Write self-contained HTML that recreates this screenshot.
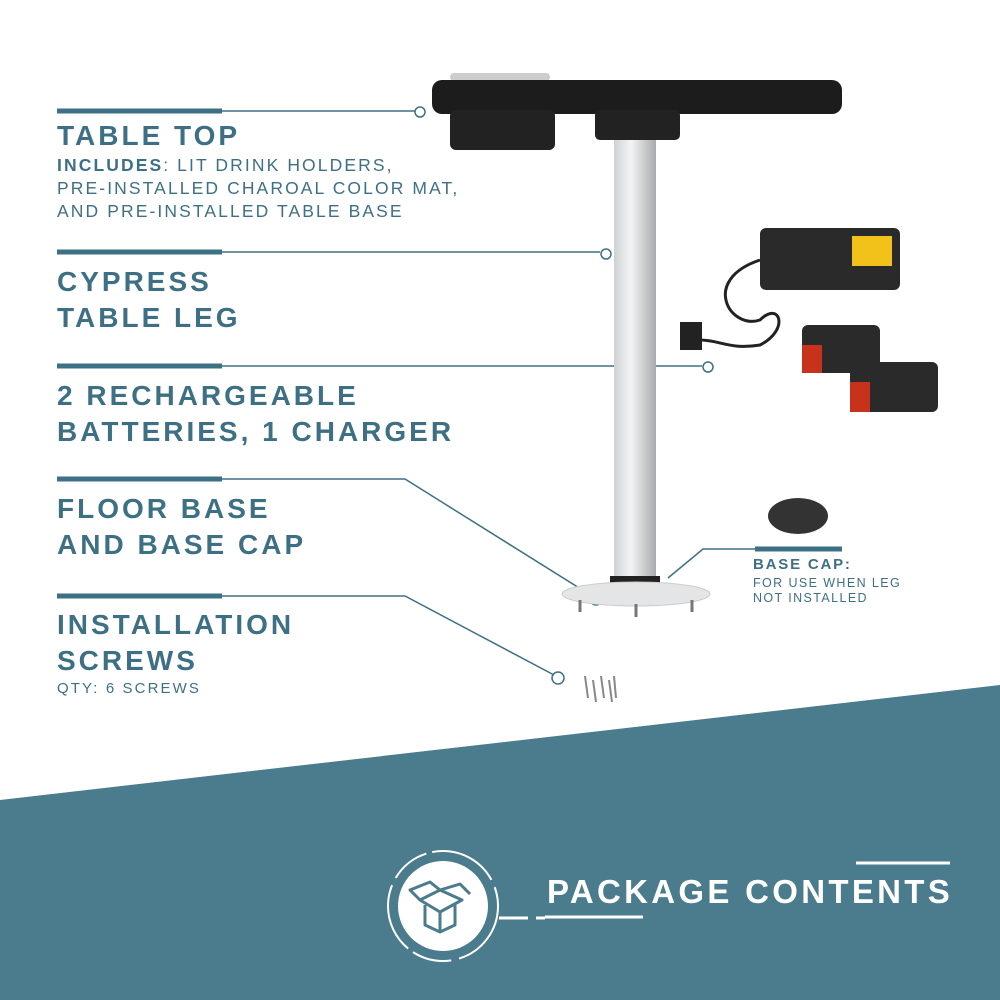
<!DOCTYPE html>
<html><head><style>
body{margin:0;width:1000px;height:1000px;background:#fff;overflow:hidden;position:relative;font-family:"Liberation Sans",sans-serif}
.t{position:absolute;left:57px;color:#3e7085;font-weight:bold;letter-spacing:3px;font-size:28px;line-height:36px;margin:0}
.s{position:absolute;left:57px;color:#3e7085;letter-spacing:2.1px;font-size:17.5px;line-height:23px}
</style></head><body>
<svg width="1000" height="1000" style="position:absolute;left:0;top:0">
<polygon points="0,800 1000,685 1000,1000 0,1000" fill="#4b7c8e"/>
<g stroke="#3e7085" fill="none">
<g stroke-width="5"><line x1="57" y1="111" x2="222" y2="111"/><line x1="57" y1="252" x2="222" y2="252"/><line x1="57" y1="366" x2="222" y2="366"/><line x1="57" y1="479" x2="222" y2="479"/><line x1="57" y1="596" x2="222" y2="596"/><line x1="755" y1="549" x2="842" y2="549"/></g>
<g stroke-width="1.5"><line x1="222" y1="111" x2="415" y2="111"/><line x1="222" y1="252" x2="600" y2="252"/><line x1="222" y1="366" x2="702" y2="366"/><polyline points="222,479 405,479 592,596"/><polyline points="222,596 405,596 554,675"/><polyline points="668,578 703,549 755,549"/>
<circle cx="420" cy="112" r="5"/><circle cx="606" cy="254" r="5"/><circle cx="708" cy="367" r="5"/><circle cx="596" cy="599" r="6"/><circle cx="558" cy="678" r="6"/></g>
</g>
<rect x="450" y="73" width="100" height="8" rx="4" fill="#ccc"/>
<rect x="432" y="80" width="410" height="34" rx="10" fill="#1c1c1c"/>
<rect x="450" y="110" width="105" height="40" rx="6" fill="#222"/>
<rect x="595" y="110" width="85" height="30" rx="5" fill="#222"/>
<defs><linearGradient id="g" x1="0" x2="1"><stop offset="0" stop-color="#cfd2d4"/><stop offset=".4" stop-color="#f3f4f5"/><stop offset="1" stop-color="#a8abae"/></linearGradient></defs>
<rect x="614" y="140" width="42" height="440" fill="url(#g)"/>
<rect x="610" y="576" width="50" height="10" fill="#222"/>
<ellipse cx="636" cy="594" rx="74" ry="12" fill="#e3e5e7" stroke="#ccc"/>
<line x1="580" y1="600" x2="580" y2="612" stroke="#777" stroke-width="3"/><line x1="636" y1="604" x2="636" y2="617" stroke="#777" stroke-width="3"/><line x1="692" y1="600" x2="692" y2="612" stroke="#777" stroke-width="3"/>
<ellipse cx="798" cy="516" rx="30" ry="18" fill="#333"/>
<rect x="760" y="228" width="140" height="62" rx="6" fill="#2a2a2a"/>
<rect x="852" y="236" width="40" height="30" fill="#f2c21a"/>
<path d="M760,260 C700,280 730,330 760,320 C780,300 790,330 760,345 C730,350 720,340 700,340" stroke="#222" stroke-width="3" fill="none"/>
<rect x="680" y="322" width="22" height="28" fill="#222"/>
<rect x="802" y="325" width="78" height="48" rx="6" fill="#2a2a2a"/><rect x="802" y="345" width="20" height="28" fill="#c8321c"/>
<rect x="850" y="362" width="88" height="50" rx="6" fill="#2a2a2a"/><rect x="850" y="382" width="20" height="30" fill="#c8321c"/>
<g stroke="#888" stroke-width="2"><line x1="585" y1="676" x2="588" y2="698"/><line x1="593" y1="680" x2="596" y2="702"/><line x1="601" y1="676" x2="604" y2="698"/><line x1="609" y1="680" x2="612" y2="702"/><line x1="614" y1="676" x2="616" y2="698"/></g>
<circle cx="443" cy="906" r="45" fill="#fff"/>
<circle cx="443" cy="906" r="55" fill="none" stroke="#fff" stroke-width="2" stroke-dasharray="70 8 40 6"/>
<g stroke="#4b7c8e" stroke-width="3" fill="none" stroke-linejoin="round"><path d="M420,900 L440,890 L462,900 L440,912 Z"/><path d="M425,905 V925 L440,932 L455,925 V905"/><line x1="440" y1="912" x2="440" y2="932"/><path d="M420,900 L410,890 L430,882 L440,890"/><path d="M440,890 L460,884 L470,894"/></g>
<g stroke="#fff" stroke-width="3"><line x1="499" y1="918" x2="528" y2="918"/><line x1="536" y1="918" x2="545" y2="918"/><line x1="545" y1="917" x2="643" y2="917"/><line x1="856" y1="863" x2="950" y2="863"/></g>
<text x="547" y="903" fill="#fff" font-family="Liberation Sans" font-weight="bold" font-size="33" letter-spacing="3.3">PACKAGE CONTENTS</text>
</svg>
<div class="t" style="top:118px">TABLE TOP</div>
<div class="s" style="top:154px"><b>INCLUDES</b>: LIT DRINK HOLDERS,<br>PRE-INSTALLED CHAROAL COLOR MAT,<br>AND PRE-INSTALLED TABLE BASE</div>
<div class="t" style="top:264px">CYPRESS<br>TABLE LEG</div>
<div class="t" style="top:378px">2 RECHARGEABLE<br>BATTERIES, 1 CHARGER</div>
<div class="t" style="top:491px">FLOOR BASE<br>AND BASE CAP</div>
<div class="t" style="top:607px">INSTALLATION<br>SCREWS</div>
<div class="s" style="top:677px;font-size:15px">QTY: 6 SCREWS</div>
<div style="position:absolute;left:753px;top:556px;color:#3e7085;font-weight:bold;font-size:15px;letter-spacing:1.8px">BASE CAP:</div>
<div style="position:absolute;left:753px;top:576px;color:#3e7085;font-size:12.5px;letter-spacing:1.4px;line-height:15px">FOR USE WHEN LEG<br>NOT INSTALLED</div>
</body></html>
